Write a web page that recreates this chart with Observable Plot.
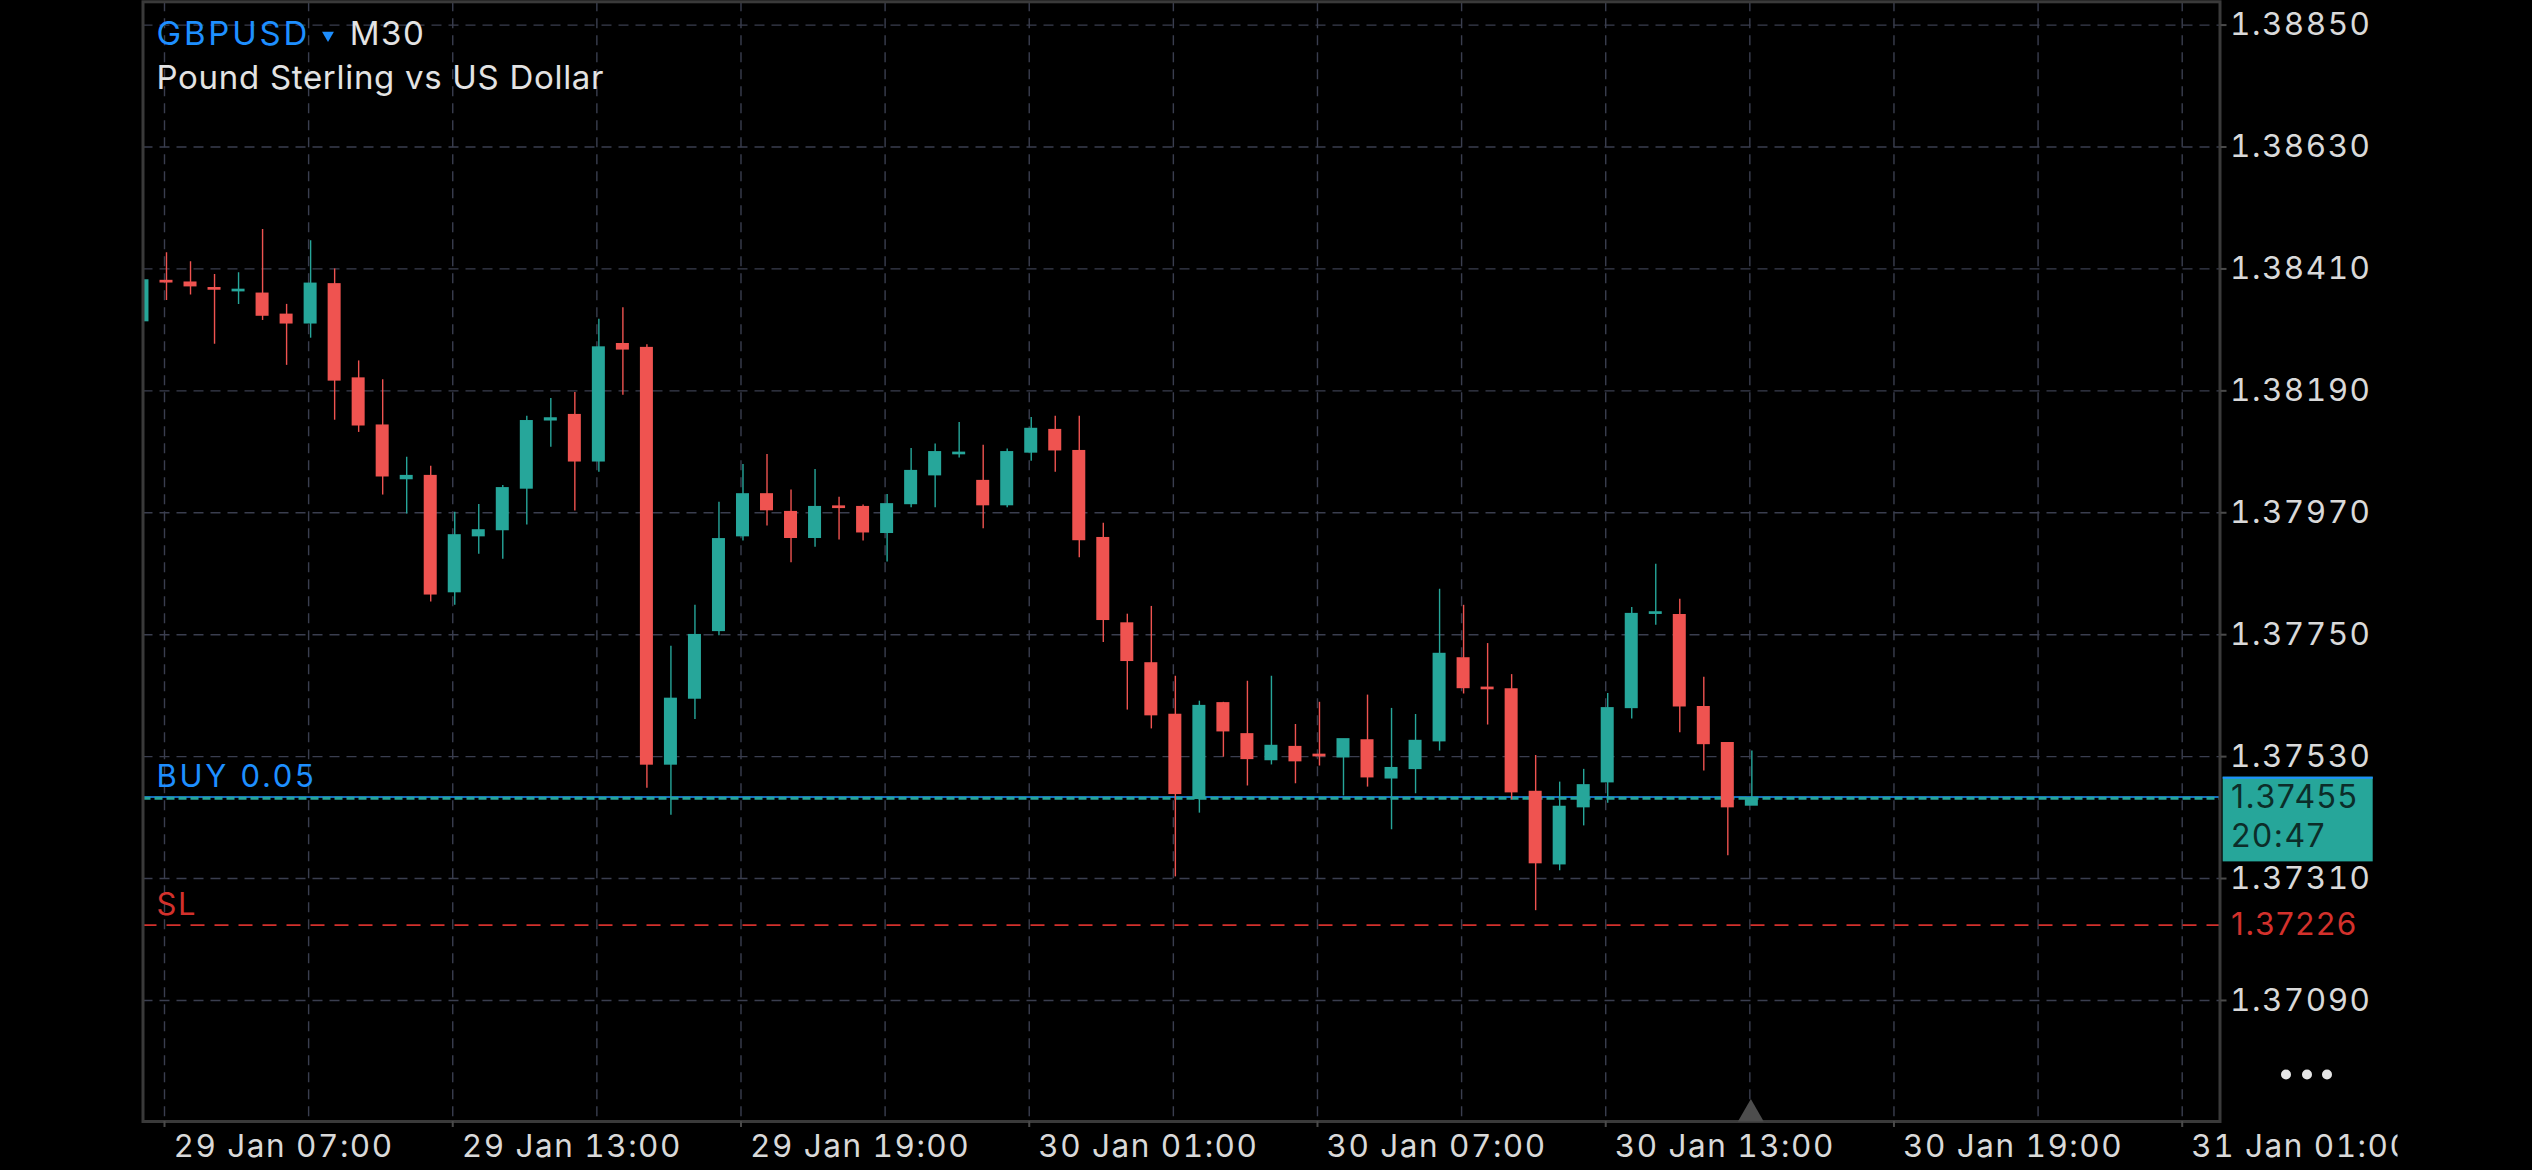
<!DOCTYPE html>
<html>
<head>
<meta charset="utf-8">
<script src="https://cdn.jsdelivr.net/npm/d3@7"></script>
<script src="https://cdn.jsdelivr.net/npm/@observablehq/plot@0.6"></script>
<style>
  html, body { margin: 0; padding: 0; background: #000; overflow: hidden; }
  #chart svg { display: block; }
  #chart svg text { letter-spacing: 1.5px; }
</style>
</head>
<body>
<div id="chart"></div>
<script>
// ---------- chart text ----------
const symbolName = "GBPUSD";
const timeframe = "M30";
const description = "Pound Sterling vs US Dollar";
const buyLabel = "BUY 0.05";
const slLabel = "SL";
const countdown = "20:47";

// ---------- trade levels ----------
const bidPrice = 1.37455;
const buyPrice = 1.37457;
const stopLoss = 1.37226;

// ---------- candles (M30, UTC) ----------
const times = [
  "01-29T06:30","01-29T07:00","01-29T07:30","01-29T08:00","01-29T08:30","01-29T09:00","01-29T09:30","01-29T10:00",
  "01-29T10:30","01-29T11:00","01-29T11:30","01-29T12:00","01-29T12:30","01-29T13:00","01-29T13:30","01-29T14:00",
  "01-29T14:30","01-29T15:00","01-29T15:30","01-29T16:00","01-29T16:30","01-29T17:00","01-29T17:30","01-29T18:00",
  "01-29T18:30","01-29T19:00","01-29T19:30","01-29T20:00","01-29T20:30","01-29T21:00","01-29T21:30","01-29T22:00",
  "01-29T22:30","01-29T23:00","01-29T23:30","01-30T00:00","01-30T00:30","01-30T01:00","01-30T01:30","01-30T02:00",
  "01-30T02:30","01-30T03:00","01-30T03:30","01-30T04:00","01-30T04:30","01-30T05:00","01-30T05:30","01-30T06:00",
  "01-30T06:30","01-30T07:00","01-30T07:30","01-30T08:00","01-30T08:30","01-30T09:00","01-30T09:30","01-30T10:00",
  "01-30T10:30","01-30T11:00","01-30T11:30","01-30T12:00","01-30T12:30","01-30T13:00","01-30T13:30","01-30T14:00",
  "01-30T14:30","01-30T15:00","01-30T15:30","01-30T16:00"
];
const open = [
  1.38316,1.38388,1.38385,1.38375,1.38370,1.38365,1.38327,1.38312,
  1.38382,1.38212,1.38127,1.38031,1.38036,1.37827,1.37928,1.37939,
  1.38014,1.38137,1.38146,1.38063,1.38274,1.38267,1.37516,1.37635,
  1.37757,1.37928,1.38003,1.37971,1.37925,1.37981,1.37980,1.37934,
  1.37986,1.38038,1.38076,1.38027,1.37984,1.38079,1.38119,1.38081,
  1.37924,1.37770,1.37698,1.37605,1.37454,1.37626,1.37570,1.37524,
  1.37547,1.37533,1.37529,1.37559,1.37491,1.37508,1.37558,1.37707,
  1.37654,1.37651,1.37466,1.37336,1.37439,1.37484,1.37618,1.37788,
  1.37785,1.37619,1.37554,1.37442
];
const high = [
  1.38392,1.38439,1.38423,1.38400,1.38403,1.38481,1.38346,1.38461,
  1.38410,1.38244,1.38210,1.38070,1.38054,1.37971,1.37985,1.38019,
  1.38144,1.38176,1.38187,1.38319,1.38340,1.38273,1.37729,1.37803,
  1.37989,1.38057,1.38075,1.38011,1.38048,1.37998,1.37984,1.38003,
  1.38086,1.38094,1.38133,1.38092,1.38085,1.38142,1.38144,1.38144,
  1.37951,1.37787,1.37801,1.37675,1.37630,1.37628,1.37666,1.37675,
  1.37588,1.37628,1.37561,1.37641,1.37617,1.37606,1.37832,1.37803,
  1.37734,1.37678,1.37532,1.37484,1.37507,1.37644,1.37799,1.37877,
  1.37814,1.37673,1.37554,1.37540
];
const low = [
  1.38314,1.38353,1.38363,1.38274,1.38346,1.38317,1.38236,1.38285,
  1.38137,1.38115,1.38002,1.37968,1.37809,1.37803,1.37895,1.37886,
  1.37948,1.38088,1.37973,1.38043,1.38182,1.37473,1.37424,1.37597,
  1.37748,1.37919,1.37946,1.37880,1.37908,1.37921,1.37919,1.37881,
  1.37979,1.37979,1.38069,1.37941,1.37979,1.38063,1.38043,1.37889,
  1.37736,1.37614,1.37580,1.37313,1.37428,1.37529,1.37477,1.37515,
  1.37481,1.37513,1.37459,1.37475,1.37398,1.37463,1.37540,1.37643,
  1.37587,1.37452,1.37252,1.37324,1.37405,1.37446,1.37598,1.37767,
  1.37573,1.37504,1.37351,1.37442
];
const close = [
  1.38389,1.38386,1.38379,1.38373,1.38372,1.38326,1.38312,1.38383,
  1.38209,1.38128,1.38036,1.38036,1.37823,1.37929,1.37938,1.38014,
  1.38135,1.38140,1.38063,1.38268,1.38265,1.37516,1.37634,1.37749,
  1.37922,1.38003,1.37975,1.37925,1.37980,1.37979,1.37935,1.37985,
  1.38045,1.38079,1.38078,1.37984,1.38079,1.38121,1.38083,1.37921,
  1.37777,1.37703,1.37605,1.37463,1.37621,1.37576,1.37526,1.37549,
  1.37522,1.37531,1.37561,1.37493,1.37509,1.37558,1.37715,1.37654,
  1.37652,1.37466,1.37338,1.37439,1.37478,1.37617,1.37787,1.37790,
  1.37621,1.37553,1.37439,1.37455
];

// ---------- axes ----------
const priceTicks = [1.37090, 1.37310, 1.37530, 1.37750, 1.37970, 1.38190, 1.38410, 1.38630, 1.38850];
const timeGridTicks = [
  "01-29T07:00","01-29T10:00","01-29T13:00","01-29T16:00","01-29T19:00","01-29T22:00",
  "01-30T01:00","01-30T04:00","01-30T07:00","01-30T10:00","01-30T13:00","01-30T16:00",
  "01-30T19:00","01-30T22:00","01-31T01:00"
];
const timeLabelTicks = [
  "01-29T07:00","01-29T13:00","01-29T19:00","01-30T01:00",
  "01-30T07:00","01-30T13:00","01-30T19:00","01-31T01:00"
];
const timeDomain = ["01-29T06:33:09", "01-31T01:47:12"];
const priceDomain = [1.368716, 1.388920];

// ---------- build ----------
const parseT = s => new Date(`2026-${s}${s.length === 11 ? ":00" : ""}Z`);
const rows = times.map((t, i) => ({t: parseT(t), o: open[i], h: high[i], l: low[i], c: close[i]}));
const upRows = rows.filter(d => d.c >= d.o);
const downRows = rows.filter(d => d.c < d.o);

const TEAL = "#26a69a", RED = "#ef5350", BLUE = "#1e8fff", SLRED = "#d3312c";
const GRID = "#3a3e4f", FRAME = "#3a3a3a", TXT = "#d9d9d9";
const FONT = "Inter, Roboto, sans-serif";
const W = 2532, H = 1170, ML = 142.5, MR = 312.5, MT = 1.3, MB = 49;
const boxInsetL = 2080.2, boxInsetR = -153.2;

const candleMarks = (data, color) => [
  Plot.ruleX(data, {x: "t", y1: "l", y2: "h", stroke: color, strokeWidth: 1.4, dx: 2, clip: true}),
  Plot.rect(data, {x1: "t", x2: "t", y1: "o", y2: "c", fill: color,
    insetLeft: -6.5, insetRight: -6.5, insetTop: -0.8, insetBottom: -0.8, dx: 2, clip: true})
];

const chart = Plot.plot({
  width: W, height: H,
  marginLeft: ML, marginRight: MR, marginTop: MT, marginBottom: MB,
  style: {background: "#000", color: TXT, fontFamily: FONT},
  x: {type: "utc", domain: timeDomain.map(parseT)},
  y: {domain: priceDomain},
  marks: [
    Plot.ruleY(priceTicks, {stroke: GRID, strokeWidth: 1.4, strokeDasharray: "10,7"}),
    Plot.ruleX(timeGridTicks.map(parseT), {stroke: GRID, strokeWidth: 1.4, strokeDasharray: "10,7"}),
    Plot.ruleY([stopLoss], {stroke: SLRED, strokeWidth: 1.6, strokeDasharray: "14,10"}),
    Plot.ruleY([buyPrice], {stroke: BLUE, strokeWidth: 1.5}),
    Plot.ruleY([bidPrice], {stroke: TEAL, strokeWidth: 3, strokeDasharray: "8,4"}),
    ...candleMarks(upRows, TEAL),
    ...candleMarks(downRows, RED),
    Plot.frame({stroke: FRAME, strokeWidth: 3}),
    // axes
    Plot.axisY(priceTicks, {anchor: "right", tickFormat: d => d.toFixed(5), tickSize: 6, tickPadding: 4,
      fontSize: 31.5, fontFamily: FONT, fill: TXT, stroke: "#4a4a4a", strokeWidth: 2, label: null}),
    Plot.axisX(timeLabelTicks.map(parseT), {anchor: "bottom", tickFormat: () => "", tickSize: 6,
      stroke: "#4a4a4a", strokeWidth: 2, label: null}),
    Plot.axisX(timeLabelTicks.map(parseT), {anchor: "bottom", tickFormat: d3.utcFormat("%-d %b %H:%M"),
      tickSize: 0, tickPadding: 13, textAnchor: "start", dx: 9, fontSize: 31.5, fontFamily: FONT,
      fill: TXT, label: null}),
    // trade labels
    Plot.text([{p: bidPrice, s: buyLabel}], {y: "p", text: "s", frameAnchor: "left", dx: 13.5, dy: -21.3,
      textAnchor: "start", lineAnchor: "middle", fill: BLUE, fontSize: 31, fontFamily: FONT}),
    Plot.text([{p: stopLoss, s: slLabel}], {y: "p", text: "s", frameAnchor: "left", dx: 13.5, dy: -20,
      textAnchor: "start", lineAnchor: "middle", fill: SLRED, fontSize: 31, fontFamily: FONT}),
    Plot.text([stopLoss], {y: d => d, text: d => d.toFixed(5), frameAnchor: "right", dx: 11,
      textAnchor: "start", lineAnchor: "middle", fill: SLRED, fontSize: 31.5, fontFamily: FONT}),
    // current price box
    Plot.rect([bidPrice], {y1: d => d, y2: d => d, insetLeft: boxInsetL, insetRight: boxInsetR,
      insetTop: -21, insetBottom: -63.7, fill: TEAL}),
    Plot.ruleY([bidPrice], {dy: -20.5, insetLeft: boxInsetL, insetRight: boxInsetR, stroke: BLUE, strokeWidth: 2}),
    Plot.text([bidPrice], {y: d => d, text: d => d.toFixed(5), frameAnchor: "right", dx: 11,
      textAnchor: "start", lineAnchor: "middle", fill: "#0c2d29", fontSize: 32, fontFamily: FONT}),
    Plot.text([bidPrice], {y: d => d, text: () => countdown, frameAnchor: "right", dx: 11, dy: 39,
      textAnchor: "start", lineAnchor: "middle", fill: "#0c2d29", fontSize: 32, fontFamily: FONT}),
    // current bar marker
    Plot.dot([rows[rows.length - 1]], {x: "t", frameAnchor: "bottom", symbol: "triangle", r: 9.6,
      fill: "#4d4d4d", dy: -7.5, dx: 1}),
    // menu dots
    ...[66, 87, 107].map(ox => Plot.dot([0], {frameAnchor: "bottom-right", dx: ox, dy: -47, r: 5, fill: "#e6e6e6"})),
    // title
    Plot.text([symbolName], {frameAnchor: "top-left", dx: 13.5, dy: 33, text: d => d, textAnchor: "start",
      lineAnchor: "middle", fill: BLUE, fontSize: 33, fontFamily: FONT}),
    Plot.dot([0], {frameAnchor: "top-left", dx: 185, dy: 33.4, symbol: "triangle", rotate: 180, r: 4.4, fill: BLUE}),
    Plot.text([timeframe], {frameAnchor: "top-left", dx: 206.8, dy: 33, text: d => d, textAnchor: "start",
      lineAnchor: "middle", fill: "#e3e3e3", fontSize: 33, fontFamily: FONT}),
    Plot.text([description], {frameAnchor: "top-left", dx: 13.5, dy: 76.6, text: d => d, textAnchor: "start",
      lineAnchor: "middle", fill: "#e3e3e3", fontSize: 33, fontFamily: FONT})
  ]
});

document.getElementById("chart").appendChild(chart);

const svg = d3.select(chart);
// per-label tracking to match the reference widths
const tracking = new Map([[symbolName, "2.8px"], [description, "0.7px"], [buyLabel, "2.7px"]]);
svg.selectAll("text").each(function () {
  const ls = tracking.get(this.textContent);
  if (ls) this.style.letterSpacing = ls;
});
// clip the last date label at the edge of the price panel, as in the reference
svg.append("defs").append("clipPath").attr("id", "xlabel-clip")
  .append("rect").attr("x", 0).attr("y", 0).attr("width", 2388).attr("height", H);
svg.selectAll('g[aria-label="x-axis tick label"]').attr("clip-path", "url(#xlabel-clip)");
</script>
</body>
</html>
